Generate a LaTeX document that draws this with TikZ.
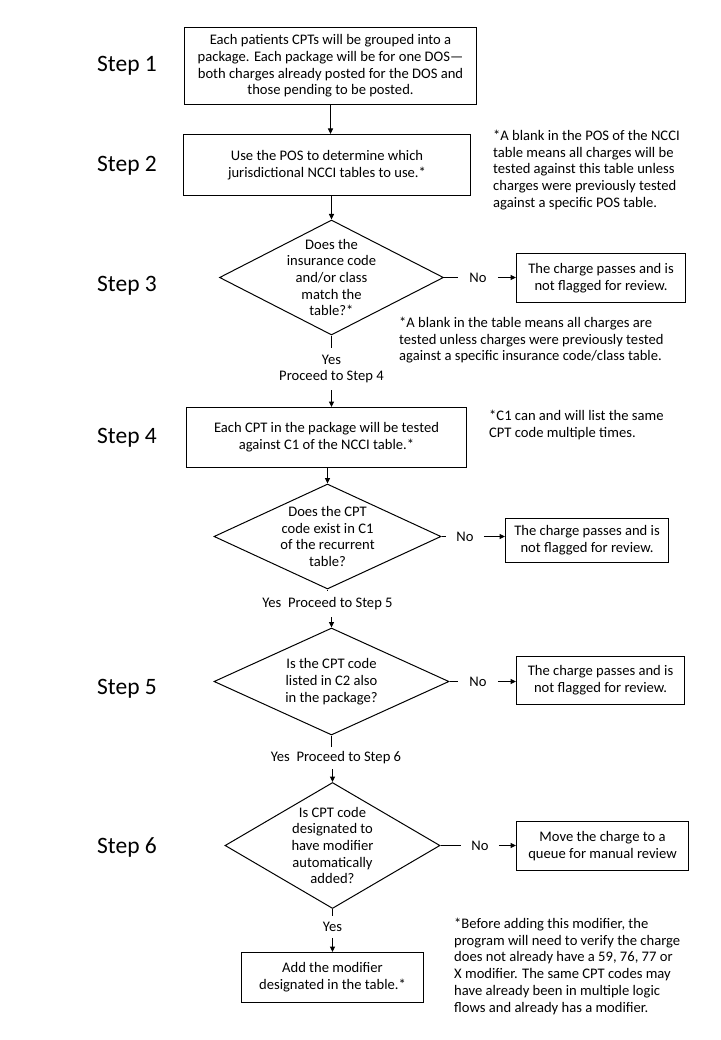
\documentclass[tikz,border=0pt]{standalone}
\usepackage{fontspec}
\setmainfont{Carlito}
\usetikzlibrary{shapes.geometric,arrows.meta}
\newcommand\bodyfs{\fontsize{14.6}{16.7}\selectfont}
\tikzset{
  box/.style={draw, line width=1pt, inner sep=0pt, align=center, font=\bodyfs},
  dia/.style={draw, diamond, line width=1pt, inner sep=0pt},
  txt/.style={align=center, inner sep=0pt, font=\bodyfs},
  note/.style={align=left, inner sep=0pt, anchor=north west, font=\bodyfs},
  steplbl/.style={anchor=west, inner sep=0pt, font=\fontsize{23.5}{28}\selectfont},
  arr/.style={-{Triangle[length=5.5pt,width=5pt]}, line width=1pt},
  ln/.style={line width=1pt},
}
\begin{document}
\begin{tikzpicture}[x=1pt,y=-1pt]
\useasboundingbox[fill=white] (0,0) rectangle (720,1040);

% step labels
\node[steplbl] (s1) at (97,66) {Step 1};
\node[steplbl] (s2) at (97,166) {Step 2};
\node[steplbl] (s3) at (97,286) {Step 3};
\node[steplbl] (s4) at (97,438) {Step 4};
\node[steplbl] (s5) at (97,689) {Step 5};
\node[steplbl] (s6) at (97,847) {Step 6};

% main boxes
\node[box, minimum width=292pt, minimum height=77pt] (b1) at (330.5,66)
  {Each patients CPTs will be grouped into a\\package. Each package will be for one DOS—\\both charges already posted for the DOS and\\those pending to be posted.};
\node[box, minimum width=287pt, minimum height=61pt] (b2) at (327,165)
  {Use the POS to determine which\\jurisdictional NCCI tables to use.*};
\node[dia, minimum width=224pt, minimum height=115pt] (d1) at (331.5,277.5) {};
\node[txt] (t1) at (d1) {Does the\\insurance code\\and/or class\\match the\\table?*};
\node[box, minimum width=169pt, minimum height=49pt] (r1) at (601,278)
  {The charge passes and is\\not flagged for review.};
\node[txt, inner xsep=11pt] (no1) at (478,277.5) {No};
\node[txt, inner ysep=7pt] (yes1) at (331.5,369) {Yes\\Proceed to Step 4};

\node[box, minimum width=280pt, minimum height=60pt] (b4) at (326.5,437.5)
  {Each CPT in the package will be tested\\against C1 of the NCCI table.*};
\node[dia, minimum width=227pt, minimum height=105pt] (d2) at (327.5,536.5) {};
\node[txt] (t2) at (d2) {Does the CPT\\code exist in C1\\of the recurrent\\table?};
\node[box, minimum width=163pt, minimum height=44pt] (r2) at (587,540.5)
  {The charge passes and is\\not flagged for review.};
\node[txt, inner xsep=10pt] (no2) at (465,536.5) {No};
\node[txt, inner ysep=7pt] (yes2) at (327.5,604) {Yes\ \ Proceed to Step 5};

\node[dia, minimum width=235pt, minimum height=107pt] (d3) at (331.5,681.5) {};
\node[txt] (t3) at (d3) {Is the CPT code\\listed in C2 also\\in the package?};
\node[box, minimum width=168pt, minimum height=48pt] (r3) at (600.5,680.5)
  {The charge passes and is\\not flagged for review.};
\node[txt, inner xsep=11pt] (no3) at (478,681.5) {No};
\node[txt, inner ysep=5pt] (yes3) at (336,758) {Yes\ \ Proceed to Step 6};

\node[dia, minimum width=215pt, minimum height=126pt] (d4) at (332.5,845.5) {};
\node[txt] (t4) at (d4) {Is CPT code\\designated to\\have modifier\\automatically\\added?};
\node[box, minimum width=172pt, minimum height=49pt] (r4) at (602.5,846)
  {Move the charge to a\\queue for manual review};
\node[txt, inner xsep=10pt] (no4) at (480,845.5) {No};
\node[txt, inner ysep=6pt] (yes4) at (332.5,927) {Yes};
\node[box, minimum width=182pt, minimum height=50pt] (b6) at (332.5,977.5)
  {Add the modifier\\designated in the table.*};

% notes
\node[note] (n2) at (493,130) {*A blank in the POS of the NCCI\\table means all charges will be\\tested against this table unless\\charges were previously tested\\against a specific POS table.};
\node[note] (n3) at (399,317) {*A blank in the table means all charges are\\tested unless charges were previously tested\\against a specific insurance code/class table.};
\node[note] (n4) at (489,410) {*C1 can and will list the same\\CPT code multiple times.};
\node[note] (n6) at (454,918) {*Before adding this modifier, the\\program will need to verify the charge\\does not already have a 59, 76, 77 or\\X modifier. The same CPT codes may\\have already been in multiple logic\\flows and already has a modifier.};

% connectors
\draw[arr] (b1.south) -- (b1.south |- b2.north);
\draw[arr] (d1.north |- b2.south) -- (d1.north);
\draw[ln] (d1.east) -- (no1.west);
\draw[arr] (no1.east) -- (no1.east -| r1.west);
\draw[ln] (d1.south) -- (yes1.north);
\draw[arr] (yes1.south) -- (yes1.south |- b4.north);

\draw[arr] (d2.north |- b4.south) -- (d2.north);
\draw[ln] (d2.east) -- (no2.west);
\draw[arr] (no2.east) -- (no2.east -| r2.west);
\draw[ln] (d2.south) -- (d2.south |- yes2.north);
\draw[arr] (d3.north |- yes2.south) -- (d3.north);

\draw[ln] (d3.east) -- (no3.west);
\draw[arr] (no3.east) -- (no3.east -| r3.west);
\draw[ln] (d3.south) -- (d3.south |- yes3.north);
\draw[arr] (d4.north |- yes3.south) -- (d4.north);

\draw[ln] (d4.east) -- (no4.west);
\draw[arr] (no4.east) -- (no4.east -| r4.west);
\draw[ln] (d4.south) -- (yes4.north);
\draw[arr] (yes4.south) -- (b6.north);
\end{tikzpicture}
\end{document}
